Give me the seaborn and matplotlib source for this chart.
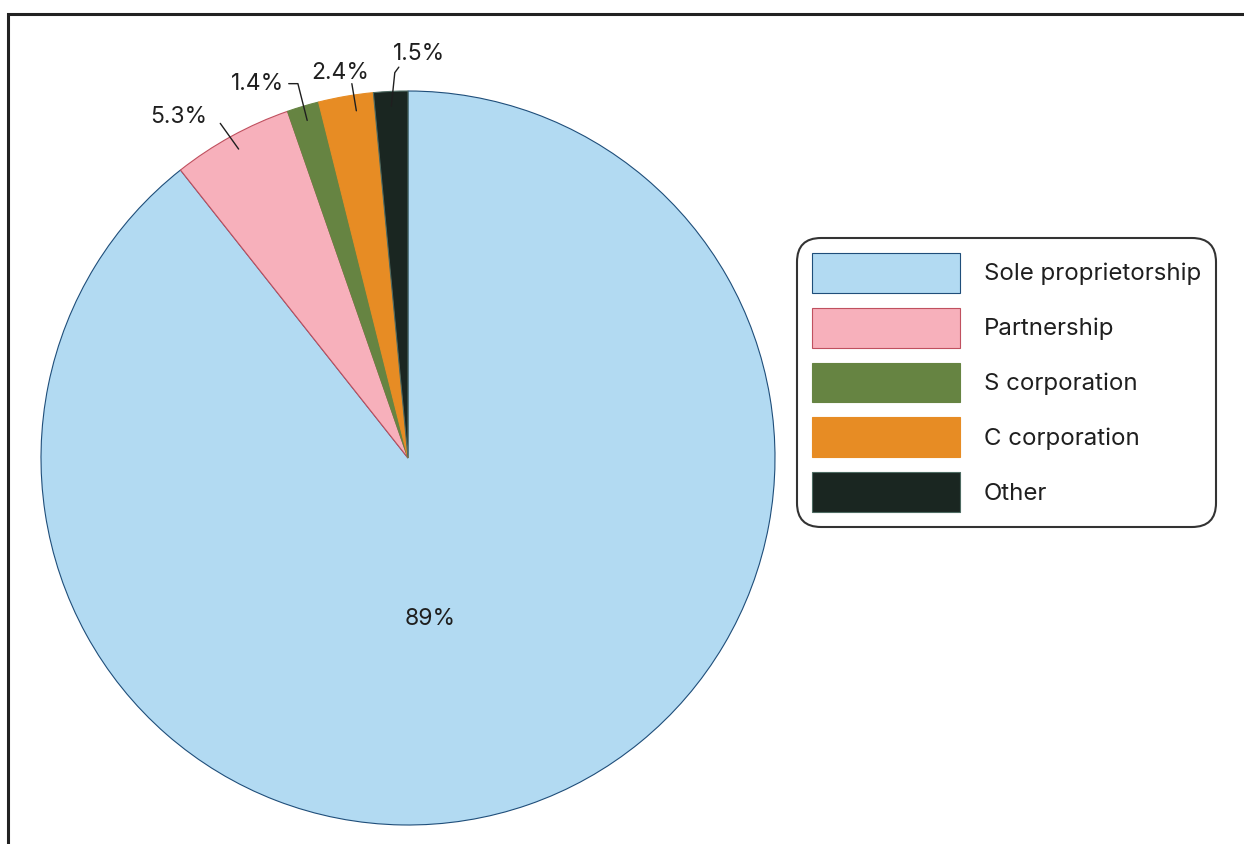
import numpy as np
import seaborn as sns
import matplotlib.pyplot as plt
from matplotlib.patches import Rectangle

# business type shares (percent)
categories = ["Sole proprietorship", "Partnership", "S corporation", "C corporation", "Other"]
shares = [89, 5.3, 1.4, 2.4, 1.5]
pct_labels = ["89%", "5.3%", "1.4%", "2.4%", "1.5%"]

colors = sns.color_palette(["#B2DAF2", "#F7B0BB", "#668442", "#E78C24", "#1A2621"])
edges = ["#1F4E7A", "#C0505F", "#668442", "#E78C24", "#4E6B62"]

sns.set_theme(style="white")
plt.rcParams["font.family"] = ["Inter", "DejaVu Sans"]

W, H = 1244, 844
cx, cy, R = 408, 458, 367  # pie centre / radius in pixels

fig = plt.figure(figsize=(W / 100, H / 100), dpi=100)
ax = fig.add_axes([0, 0, 1, 1])

wedges, _ = ax.pie(shares, colors=colors, startangle=90, counterclock=False,
                   wedgeprops=dict(linewidth=0.8))
for w, ec in zip(wedges, edges):
    w.set_edgecolor(ec)

ax.set_xlim(-cx / R, (W - cx) / R)
ax.set_ylim(-(H - cy) / R, cy / R)
ax.set_aspect("auto")
ax.axis("off")

txt = "#1f1f1f"
fs = 16.5
# big slice label placed inside
ax.text(0.06, -0.44, pct_labels[0], ha="center", va="center", fontsize=fs, color=txt)

# small slices with leader lines
text_pos = {1: (-0.625, 0.93), 2: (-0.41, 1.02), 3: (-0.185, 1.05), 4: (0.03, 1.10)}
for i, (tx, ty) in text_pos.items():
    w = wedges[i]
    mid = np.deg2rad((w.theta1 + w.theta2) / 2)
    px, py = 0.96 * np.cos(mid), 0.96 * np.sin(mid)
    ax.text(tx, ty, pct_labels[i], ha="center", va="center", fontsize=fs, color=txt)
    if i == 1:
        ax.plot([px - 0.05, px], [py + 0.07, py], color=txt, lw=1)
    elif i == 2:
        ax.plot([tx + 0.085, tx + 0.11, px], [ty, ty, py], color=txt, lw=1)
    elif i == 3:
        ax.plot([tx + 0.032, px + 0.022], [ty - 0.03, py], color=txt, lw=1)
    else:
        ax.plot([tx - 0.055, tx - 0.066, px], [ty - 0.035, ty - 0.05, py], color=txt, lw=1)

lfs = 17.3
leg = ax.legend(wedges, categories, loc="upper left",
                bbox_to_anchor=(797 / W, 1 - 238 / H), bbox_transform=fig.transFigure,
                fontsize=lfs, frameon=True, fancybox=True,
                handlelength=6.16, handleheight=2.18, labelspacing=0.62,
                handletextpad=1.0, borderpad=0.62, borderaxespad=0)
frame = leg.get_frame()
frame.set_edgecolor("black")
frame.set_linewidth(1.5)
frame.set_boxstyle("round,pad=0,rounding_size=1.0")
for t in leg.get_texts():
    t.set_color(txt)
for h, ec in zip(leg.legend_handles, edges):
    h.set_edgecolor(ec)

# outer frame that runs off the right and bottom edge
fig.patches.append(Rectangle((8 / W, -0.05), 1.2, 1 - 14 / H + 0.05,
                             transform=fig.transFigure, fill=False,
                             edgecolor="#222222", linewidth=2.2))

fig.savefig("out.png", dpi=100)
